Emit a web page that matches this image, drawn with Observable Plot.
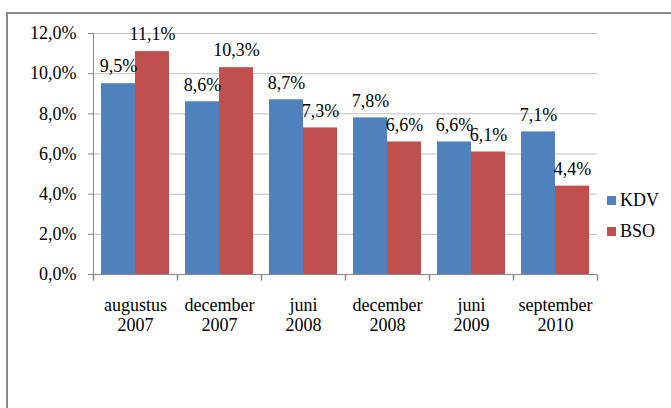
<!DOCTYPE html>
<html><head><meta charset="utf-8">
<script src="https://cdn.jsdelivr.net/npm/d3@7"></script>
<script src="https://cdn.jsdelivr.net/npm/@observablehq/plot@0.6"></script>
<style>
body{margin:0;background:#fff;}
#wrap{position:relative;width:671px;height:408px;overflow:hidden;font-family:"Liberation Serif","Times New Roman",Times,serif;background:#fff;}
#chart{position:absolute;left:0;top:0;}
#chart svg, #chart svg text{font-family:"Liberation Serif","Times New Roman",Times,serif !important;}
#border{position:absolute;left:6px;top:12px;width:800px;height:800px;border-left:2px solid #8c8c8c;border-top:2px solid #8c8c8c;pointer-events:none;}
#legend{position:absolute;left:607px;top:185px;font-size:18px;color:#000;}
.item{display:flex;align-items:center;height:31px;}
.sw{width:9px;height:9px;margin-right:4px;}
</style></head><body>
<div id="wrap"><div id="chart"></div><div id="border"></div><div id="legend"></div></div>
<script>
const categories = ["augustus 2007","december 2007","juni 2008","december 2008","juni 2009","september 2010"];
const series = ["KDV","BSO"];
const kdv = [9.5,8.6,8.7,7.8,6.6,7.1];
const bso = [11.1,10.3,7.3,6.6,6.1,4.4];
const colors = ["#4F81BD","#C0504D"];
const yTicks = [0,2,4,6,8,10,12];

const data = categories.flatMap((c,i)=>[{cat:c,s:"KDV",v:kdv[i]},{cat:c,s:"BSO",v:bso[i]}]);
const fmt = d => d.toFixed(1).replace(".", ",") + "%";
const tickSym = {draw(ctx){ctx.moveTo(0,0);ctx.lineTo(0,6);}};
const axisGray = "#868686";

const chart = Plot.plot({
  width:671, height:408,
  marginLeft:91, marginRight:72, marginTop:33, marginBottom:134,
  style:{fontFamily:"'Liberation Serif', 'Times New Roman', serif", fontSize:"18px", color:"#000", background:"transparent"},
  fx:{domain:categories, paddingInner:0, paddingOuter:0, axis:null, label:null},
  x:{domain:series, paddingInner:0, paddingOuter:0.23, axis:null},
  y:{domain:[0,12], axis:null, label:null},
  color:{domain:series, range:colors},
  marks:[
    Plot.gridY(yTicks.filter(d=>d>0), {stroke:"#c0c0c0", strokeOpacity:1}),
    Plot.barY(data, {fx:"cat", x:"s", y:"v", fill:"s"}),
    Plot.ruleY([0], {stroke:axisGray}),
    Plot.frame({anchor:"left", stroke:axisGray, facetAnchor:"left"}),
    Plot.axisY(yTicks, {tickFormat:fmt, tickSize:5, tickPadding:12, stroke:axisGray, fill:"#000", label:null, fontSize:18}),
    Plot.axisFx({anchor:"bottom", tickSize:0, tickPadding:22, lineHeight:1.12, tickFormat:d=>d.replace(" ","\n"), fill:"#000", label:null, fontSize:18}),
    Plot.dot(categories, {fx:d=>d, frameAnchor:"bottom-left", symbol:tickSym, stroke:axisGray, fill:"none"}),
    Plot.dot([categories[categories.length-1]], {fx:d=>d, frameAnchor:"bottom-right", symbol:tickSym, stroke:axisGray, fill:"none"}),
    Plot.text(data, {fx:"cat", x:"s", y:"v", text:d=>fmt(d.v), dy:-17, fontSize:18, fill:"#000"})
  ]
});
document.getElementById("chart").appendChild(chart);

const legend = document.getElementById("legend");
series.forEach((s,i)=>{
  const it = document.createElement("div"); it.className="item";
  const sw = document.createElement("div"); sw.className="sw"; sw.style.background=colors[i];
  const tx = document.createElement("span"); tx.textContent=s;
  it.appendChild(sw); it.appendChild(tx); legend.appendChild(it);
});
</script>
</body></html>
